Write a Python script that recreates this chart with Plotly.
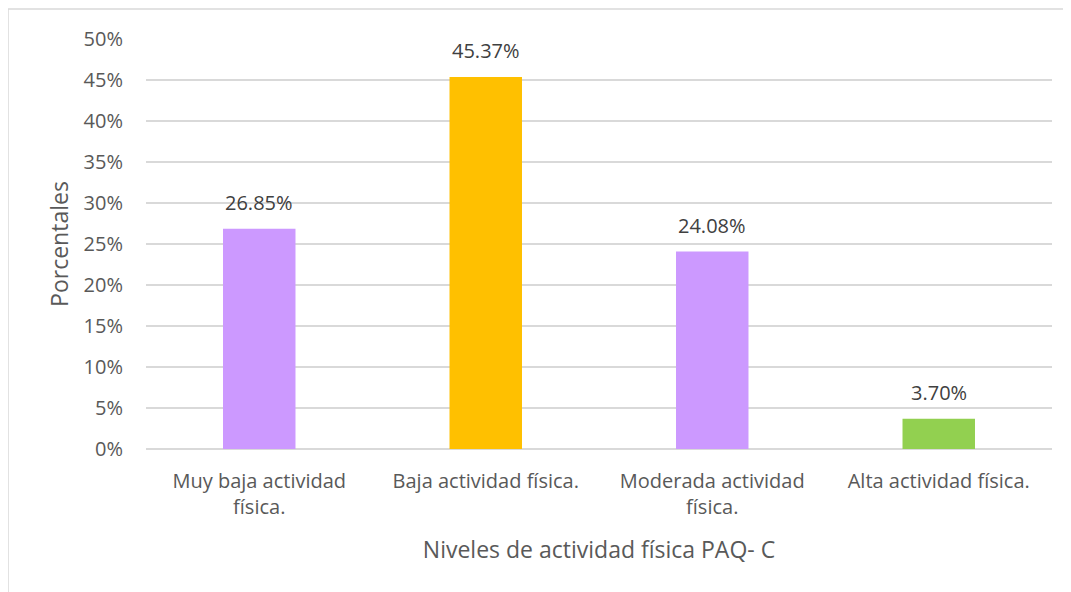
import plotly.graph_objects as go

categories = ["Muy baja actividad<br>física.", "Baja actividad física.", "Moderada actividad<br>física.", "Alta actividad física."]
values = [26.85, 45.37, 24.08, 3.70]
colors = ["#CC99FF", "#FFC000", "#CC99FF", "#92D050"]
tick_vals = [0, 5, 10, 15, 20, 25, 30, 35, 40, 45, 50]
tick_text = [f"{v}%" for v in tick_vals]

# the page adds an 8px body margin, so the figure is sized to fill the rest
OFF = 8
W, H = 1071 - OFF, 592 - OFF
L, R, T, B = 146 - OFF, 19, 39 - OFF, 143
pw, ph = W - L - R, H - T - B

fig = go.Figure()
fig.add_trace(
    go.Bar(
        x=categories,
        y=values,
        marker=dict(color=colors, line=dict(width=0)),
    )
)

# value labels sit a bit higher above the bars than plotly's "outside" text
for cat, val in zip(categories, values):
    fig.add_annotation(
        x=cat, y=val, text=f"{val:.2f}%", showarrow=False,
        yanchor="bottom", yshift=11,
        font=dict(size=20, color="#404040"),
    )


def px_x(p):
    return (p - OFF - L) / pw


def px_y(p):
    return (H - B - (p - OFF)) / ph


fig.update_layout(
    width=W,
    height=H,
    margin=dict(l=L, r=R, t=T, b=B, autoexpand=False),
    paper_bgcolor="white",
    plot_bgcolor="white",
    bargap=0.68,
    showlegend=False,
    font=dict(family="Open Sans, Noto Sans, sans-serif", color="#595959"),
    xaxis=dict(
        title=dict(text="Niveles de actividad física PAQ- C", font=dict(size=23, color="#595959"), standoff=22),
        tickfont=dict(size=20, color="#595959"),
        showline=False,
        showgrid=False,
        ticks="",
        ticklabelstandoff=18,
    ),
    yaxis=dict(
        title=dict(text="Porcentales", font=dict(size=23, color="#595959"), standoff=8),
        range=[0, 50],
        tickvals=tick_vals,
        ticktext=tick_text,
        tickfont=dict(size=20, color="#595959"),
        gridcolor="#D9D9D9",
        gridwidth=1.5,
        zeroline=True,
        zerolinecolor="#D9D9D9",
        zerolinewidth=1.5,
        ticks="",
        ticklabelstandoff=22,
    ),
    shapes=[
        dict(type="line", xref="paper", yref="paper", x0=px_x(8), x1=px_x(1100), y0=px_y(9), y1=px_y(9),
             line=dict(color="#D9D9D9", width=1.5)),
        dict(type="line", xref="paper", yref="paper", x0=px_x(8), x1=px_x(8), y0=px_y(9), y1=px_y(620),
             line=dict(color="#D9D9D9", width=1.5)),
    ],
)

fig.write_html("out.html")
